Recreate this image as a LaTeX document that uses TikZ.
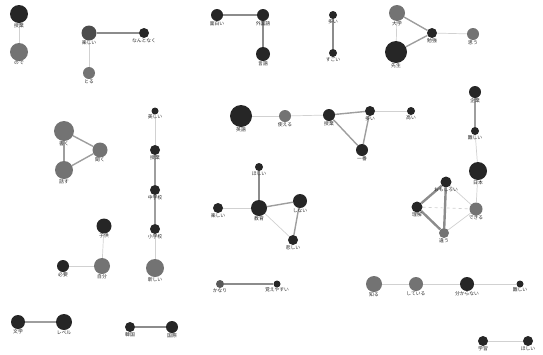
\documentclass[tikz,border=0pt]{standalone}
\usepackage{fontspec}
\setmainfont{Noto Sans CJK JP}
\pgfdeclarelayer{bg}
\pgfsetlayers{bg,main}
\tikzset{
  dk/.style={circle, fill=black!85, inner sep=0pt, minimum size=#1},
  gr/.style={circle, fill=black!55, inner sep=0pt, minimum size=#1},
  lab/.style={font=\fontsize{4.8}{4.8}\selectfont, text=black!85, inner sep=0.5pt},
  every label/.style={lab},
  lt/.style={draw=black!18, line width=0.7pt},
  md/.style={draw=black!38, line width=1.4pt},
  tk/.style={draw=black!45, line width=2.4pt},
}
\begin{document}
\begin{tikzpicture}[x=1pt,y=-1pt,label distance=-0.5pt]
\useasboundingbox (0,0) rectangle (543,354);
% group 1
\node[dk=18pt, label=below:授業] (a1) at (19,14) {};
\node[gr=18pt, label=below:ので] (a2) at (19,52) {};
% group 2
\node[dk=15pt, fill=black!70, label=below:楽しい] (b1) at (89,33) {};
\node[dk=10pt, label=below:なんとなく] (b2) at (144,33) {};
\node[gr=12pt, label=below:とる] (b3) at (89,73) {};
% group 3
\node[dk=12pt, label=below:面白い] (c1) at (217,15) {};
\node[dk=12pt, label=below:外国語] (c2) at (263,15) {};
\node[dk=14pt, label=below:言語] (c3) at (263,54) {};
% group 4
\node[dk=8pt, label=below:多い] (d1) at (333,15) {};
\node[dk=8pt, label=below:すごい] (d2) at (333,53) {};
% group 5
\node[gr=16pt, label=below:大学] (e1) at (397,13) {};
\node[dk=10pt, label=below:勉強] (e2) at (432,33) {};
\node[gr=12pt, label=below:思う] (e3) at (473,34) {};
\node[dk=22pt, label=below:先生] (e4) at (396,52) {};
% triangle
\node[gr=20pt, label=below:書く] (f1) at (64,131) {};
\node[gr=15pt, label=below:聞く] (f2) at (100,150) {};
\node[gr=18pt, label=below:話す] (f3) at (64,170) {};
% chain
\node[dk=7pt, label=below:美しい] (g1) at (155,111) {};
\node[dk=10pt, label=below:授業] (g2) at (155,150) {};
\node[dk=10pt, label=below:中学校] (g3) at (155,190) {};
\node[dk=10pt, label=below:小学校] (g4) at (155,229) {};
\node[gr=18pt, label=below:新しい] (g5) at (155,268) {};
% center group
\node[dk=22pt, label=below:英語] (h1) at (241,116) {};
\node[gr=12pt, label=below:使える] (h2) at (285,116) {};
\node[dk=12pt, label=below:授業] (h3) at (329,115) {};
\node[dk=10pt, label=below:多い] (h4) at (370,111) {};
\node[dk=8pt, label=below:高い] (h5) at (411,111) {};
\node[dk=12pt, label=below:一番] (h6) at (362,150) {};
% right vertical + cluster
\node[dk=12pt, label=below:企業] (i1) at (475,92) {};
\node[dk=8pt, label=below:難しい] (i2) at (475,131) {};
\node[dk=18pt, label=below:日本] (i3) at (478,171) {};
\node[dk=11pt, label=below:おもしろい] (j1) at (446,182) {};
\node[dk=11pt, label=below:理解] (j2) at (417,207) {};
\node[gr=13pt, label=below:できる] (j3) at (476,209) {};
\node[gr=10pt, label=below:違う] (j4) at (444,233) {};
% star group
\node[dk=8pt, label=below:ほしい] (k1) at (259,167) {};
\node[dk=16pt, label=below:教育] (k2) at (259,208) {};
\node[dk=10pt, label=below:楽しい] (k3) at (218,208) {};
\node[dk=14pt, label=below:しない] (k4) at (300,201) {};
\node[dk=10pt, label=below:悲しい] (k5) at (293,240) {};
% bottom-left group
\node[dk=15pt, label=below:子供] (l1) at (104,226) {};
\node[dk=12pt, label=below:必要] (l2) at (63,266) {};
\node[gr=16pt, label=below:自分] (l3) at (102,266) {};
% bottom row pairs
\node[dk=14pt, label=below:文学] (m1) at (18,322) {};
\node[dk=16pt, label=below:レベル] (m2) at (64,322) {};
\node[dk=10pt, label=below:韓国] (n1) at (130,327) {};
\node[dk=12pt, label=below:国際] (n2) at (172,327) {};
\node[dk=8pt, fill=black!65, label=below:かなり] (o1) at (220,284) {};
\node[dk=7pt, label=below:覚えやすい] (o2) at (277,284) {};
\node[gr=16pt, label=below:知る] (p1) at (374,284) {};
\node[gr=14pt, label=below:している] (p2) at (416,284) {};
\node[dk=14pt, label=below:分からない] (p3) at (467,284) {};
\node[dk=7pt, label=below:難しい] (p4) at (520,284) {};
\node[dk=10pt, label=below:学習] (q1) at (483,341) {};
\node[dk=10pt, label=below:ほしい] (q2) at (528,341) {};
\begin{pgfonlayer}{bg}
\draw[lt] (a1) -- (a2);
\draw[tk] (b1) -- (b2);
\draw[lt] (b1) -- (b3);
\draw[tk] (c1) -- (c2);
\draw[tk] (c2) -- (c3);
\draw[tk] (d1) -- (d2);
\draw[md] (e1) -- (e2);
\draw[md] (e4) -- (e2);
\draw[lt] (e1) -- (e4);
\draw[lt] (e2) -- (e3);
\draw[md] (f1) -- (f2);
\draw[md] (f2) -- (f3);
\draw[md] (f1) -- (f3);
\draw[lt] (g1) -- (g2);
\draw[md] (g2) -- (g3);
\draw[md] (g3) -- (g4);
\draw[lt] (g4) -- (g5);
\draw[lt] (h1) -- (h2);
\draw[lt] (h2) -- (h3);
\draw[md] (h3) -- (h4);
\draw[lt] (h4) -- (h5);
\draw[md] (h3) -- (h6);
\draw[md] (h4) -- (h6);
\draw[md] (i1) -- (i2);
\draw[lt] (i2) -- (i3);
\draw[lt] (i3) -- (j3);
\draw[tk] (j2) -- (j1);
\draw[tk] (j1) -- (j4);
\draw[tk] (j2) -- (j4);
\draw[lt, dashed] (j2) -- (j3);
\draw[lt] (j1) -- (j3);
\draw[lt] (j4) -- (j3);
\draw[tk] (k1) -- (k2);
\draw[lt] (k3) -- (k2);
\draw[md] (k2) -- (k4);
\draw[lt] (k2) -- (k5);
\draw[md] (k4) -- (k5);
\draw[lt] (l1) -- (l3);
\draw[lt] (l2) -- (l3);
\draw[md] (m1) -- (m2);
\draw[tk] (n1) -- (n2);
\draw[tk] (o1) -- (o2);
\draw[lt] (p1) -- (p2);
\draw[lt] (p2) -- (p3);
\draw[lt] (p3) -- (p4);
\draw[lt] (q1) -- (q2);
\end{pgfonlayer}
\end{tikzpicture}
\end{document}
